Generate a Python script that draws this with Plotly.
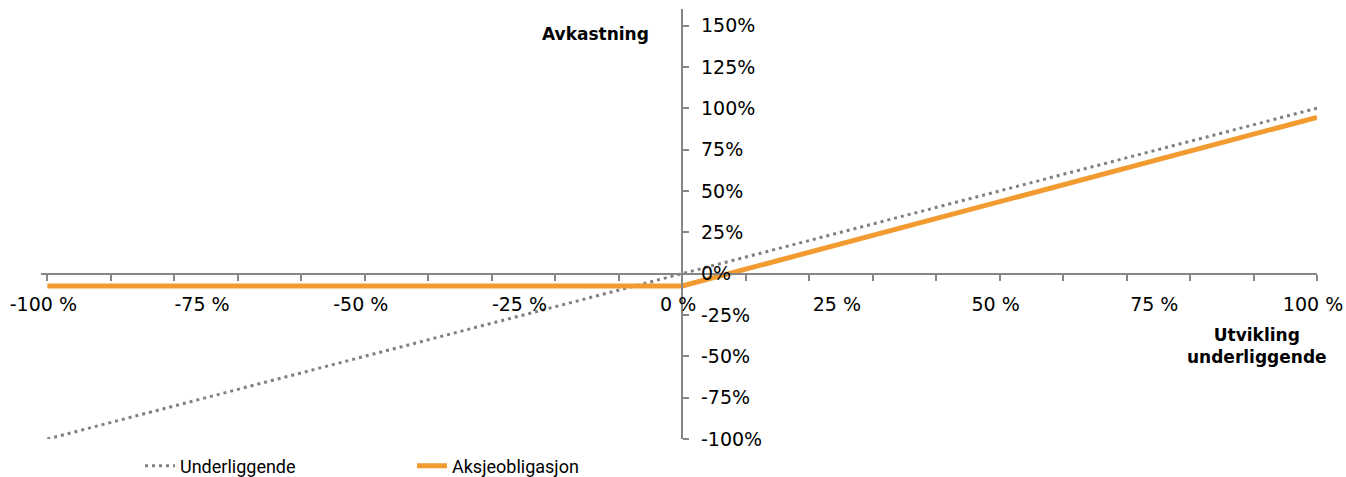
import plotly.graph_objects as go

# Data
x_vals = [-100, -90, -80, -70, -60, -50, -40, -30, -20, -10, 0,
          10, 20, 30, 40, 50, 60, 70, 80, 90, 100]
underliggende = [-100, -90, -80, -70, -60, -50, -40, -30, -20, -10, 0,
                 10, 20, 30, 40, 50, 60, 70, 80, 90, 100]
aksjeobligasjon = [-7.5, -7.5, -7.5, -7.5, -7.5, -7.5, -7.5, -7.5, -7.5, -7.5, -7.5,
                   2.7, 12.9, 23.1, 33.3, 43.5, 53.7, 63.9, 74.1, 84.3, 94.5]

x_tickvals = [-100, -75, -50, -25, 0, 25, 50, 75, 100]
x_ticktext = ["-100 %", "-75 %", "-50 %", "-25 %", "0 %", "25 %", "50 %", "75 %", "100 %"]
y_tickvals = [-100, -75, -50, -25, 0, 25, 50, 75, 100, 125, 150]
y_ticktext = ["-100%", "-75%", "-50%", "-25%", "0%", "25%", "50%", "75%", "100%", "125%", "150%"]

x_range = [-101, 100]
y_range = [-100, 160]

W, H = 1346, 477
ML, MR, MT, MB = 41, 29, 9, 38
PW, PH = W - ML - MR, H - MT - MB

AXIS_COLOR = "#868686"
TICK_FONT = dict(family="DejaVu Sans", size=19, color="#000000")


def px_x(p):
    return (p - ML) / PW


def px_y(p):
    return (H - MB - p) / PH


fig = go.Figure()
fig.add_trace(go.Scatter(
    x=x_vals, y=underliggende, mode="lines", name="Underliggende",
    line=dict(color="#808080", width=3, dash="3px,4px"),
))
fig.add_trace(go.Scatter(
    x=x_vals, y=aksjeobligasjon, mode="lines", name="Aksjeobligasjon",
    line=dict(color="#F29B30", width=5),
))

x_pos = (0 - y_range[0]) / (y_range[1] - y_range[0])
y_pos = (0 - x_range[0]) / (x_range[1] - x_range[0])

fig.update_layout(
    width=W, height=H,
    margin=dict(l=ML, r=MR, t=MT, b=MB, autoexpand=False),
    paper_bgcolor="white", plot_bgcolor="white",
    showlegend=True,
    legend=dict(
        orientation="h", xref="container", yref="container",
        x=140 / W, y=1 - 466 / H, xanchor="left", yanchor="middle",
        font=dict(family="Roboto", size=18, color="#000000"),
        entrywidth=227, entrywidthmode="pixels",
        bgcolor="rgba(0,0,0,0)",
    ),
    xaxis=dict(
        range=x_range, anchor="free", position=x_pos, automargin=False,
        showgrid=False, zeroline=False,
        showline=True, linecolor=AXIS_COLOR, linewidth=2,
        tickmode="array", tickvals=x_tickvals, ticktext=x_ticktext,
        ticks="", tickfont=TICK_FONT, ticklabelstandoff=14, ticklabelshift=-4,
        minor=dict(dtick=10, tick0=0, ticks="outside", ticklen=6,
                   tickcolor=AXIS_COLOR, tickwidth=1.5, showgrid=False),
    ),
    yaxis=dict(
        range=y_range, anchor="free", position=y_pos, side="right", automargin=False,
        showgrid=False, zeroline=False,
        showline=True, linecolor=AXIS_COLOR, linewidth=2,
        tickmode="array", tickvals=y_tickvals, ticktext=y_ticktext,
        ticks="outside", ticklen=6, tickcolor=AXIS_COLOR, tickwidth=1.5,
        tickfont=TICK_FONT, ticklabelstandoff=8,
    ),
    annotations=[
        dict(text="<b>Avkastning</b>", x=px_x(651), y=px_y(34),
             xref="paper", yref="paper", xanchor="right", yanchor="middle",
             showarrow=False, font=dict(family="DejaVu Sans", size=17, color="#000000")),
        dict(text="<b>Utvikling<br>underliggende</b>", x=px_x(1257), y=px_y(346),
             xref="paper", yref="paper", xanchor="center", yanchor="middle",
             showarrow=False, font=dict(family="DejaVu Sans", size=17, color="#000000")),
    ],
)

fig.write_html("out.html", config={"displayModeBar": False},
               post_script="document.body.style.margin='0';")
